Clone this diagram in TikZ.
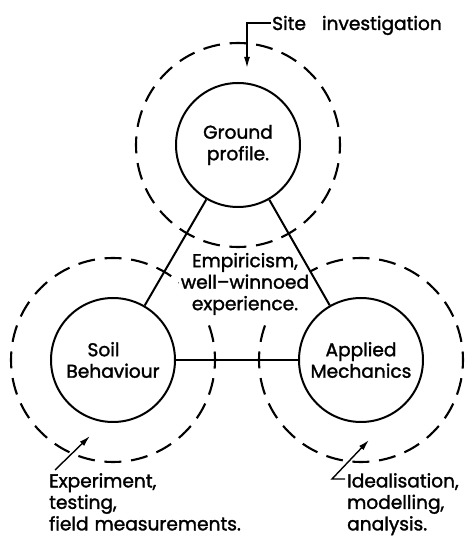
\documentclass[tikz,border=0pt]{standalone}
\usepackage{fontspec}
\setmainfont{Poppins}[FakeBold=1.6]
\usetikzlibrary{arrows.meta}
\begin{document}
\begin{tikzpicture}[x=1pt,y=1pt,
  every node/.style={font=\fontsize{18.6}{21.5}\selectfont},
  core/.style={circle,draw,line width=2pt,minimum size=124pt,inner sep=0pt,align=center},
  halo/.style={circle,draw,line width=2.1pt,minimum size=204pt,inner sep=0pt,
    dash pattern=on 17pt off 9.70pt,dash phase=8.5pt},
  link/.style={line width=2pt},
  pointer/.style={line width=1.4pt,-{Latex[length=11pt,width=6pt]}},
  note/.style={align=left,inner sep=0pt,anchor=north west}]
\useasboundingbox (0,0) rectangle (470,536);

% the three fields of the triangle
\node[core] (ground) at (238,391) {Ground\\profile.};
\node[core] (soil)   at (113,176) {Soil\rule{19pt}{0pt}\\Behaviour};
\node[core] (mech)   at (361,176) {Applied\\Mechanics};

% activities surrounding each field
\node[halo] (groundring) at (ground) {};
\node[halo] (soilring)   at (soil) {};
\node[halo] (mechring)   at (mech) {};

% centre of the triangle, on a clear patch
\node[align=center,inner sep=2pt,fill=white] (empir) at (245,252) {Empiricism,\\well–winnoed\\experience.};

% sides of the triangle
\draw[link] (ground) -- (soil);
\draw[link] (ground) -- (mech);
\draw[link] (soil) -- (mech);

% site investigation
\node[anchor=base west,inner sep=0pt] (site) at (272,506) {Site\hspace{16pt}investigation};
\coordinate (sitetip) at (247,468);
\draw[pointer] ([xshift=-1pt,yshift=7pt]site.base west) -| (sitetip);

% experiment
\node[note] (expt) at (49,63) {Experiment,\\testing,\\field\hspace{6pt}measurements.};
\coordinate (exptail) at (55,66);
\coordinate (exptip) at (90,100);
\draw[pointer] (exptail) -- (exptip);

% idealisation
\node[note] (ideal) at (347,63) {Idealisation,\\modelling,\\analysis.};
\coordinate (idealstart) at (345,57);
\coordinate (idealbend) at (332,57);
\coordinate (idealtip) at (369,96);
\draw[pointer] (idealstart) -- (idealbend) -- (idealtip);
\end{tikzpicture}
\end{document}
